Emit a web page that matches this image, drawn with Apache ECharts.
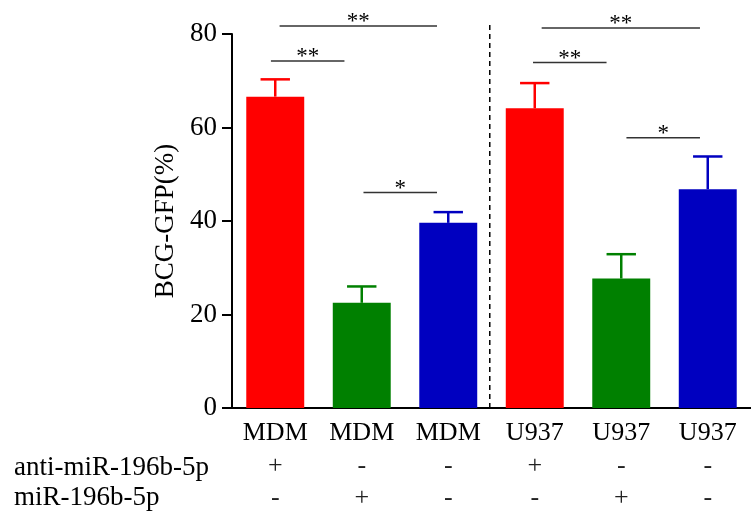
<!DOCTYPE html>
<html lang="en">

<head>
    <meta charset="UTF-8">
    <title>BCG-GFP</title>
</head>
<style>
    body {
        margin: 0;
        background-color: #ffffff;
    }

    #main {
        width: 751px;
        height: 514px;
    }
</style>
<script src="https://cdn.jsdelivr.net/npm/echarts@6.0.0/dist/echarts.min.js"></script>

<body>
    <div id="main"></div>

    <script>
        // data
        const categories = ['MDM', 'MDM', 'MDM', 'U937', 'U937', 'U937'];
        const antiMiR = ['+', '-', '-', '+', '-', '-'];
        const miR = ['-', '+', '-', '-', '+', '-'];
        const means = [66.6, 22.5, 39.6, 64.1, 27.7, 46.8];
        const errTops = [70.3, 26.0, 41.9, 69.5, 32.9, 53.8];
        const yTicks = [0, 20, 40, 60, 80];

        // significance brackets (x in category units)
        const bracketFrom = [0.05, -0.05, 1.02, 3.08, 2.98, 4.06];
        const bracketTo = [1.87, 0.80, 1.87, 4.91, 3.83, 4.91];
        const bracketY = [81.7, 74.2, 46.1, 81.3, 73.9, 57.8];
        const bracketMark = ['**', '**', '*', '**', '**', '*'];

        const barColors = ['#ff0000', '#008000', '#0000c0', '#ff0000', '#008000', '#0000c0'];
        const font = "'Liberation Serif', 'Times New Roman', serif";

        let myChart = echarts.init(document.getElementById('main'));

        option = {
            animation: false,
            textStyle: { fontFamily: font },
            grid: { left: 232, right: 0, top: 34, bottom: 106 },
            xAxis: [
                {
                    type: 'category',
                    data: categories,
                    axisLine: { lineStyle: { color: '#000', width: 2 } },
                    axisTick: { length: 8, lineStyle: { color: '#000', width: 2 } },
                    axisLabel: {
                        interval: 0,
                        margin: 9,
                        color: '#000',
                        fontFamily: font,
                        fontSize: 26,
                        lineHeight: 32,
                        formatter: (v, i) => v + '\n{pm|' + antiMiR[i] + '}\n{pm|' + miR[i] + '}',
                        rich: {
                            pm: { fontSize: 26, lineHeight: 32, color: '#222', fontFamily: font, padding: [3, 0, 0, 0] }
                        }
                    }
                },
                {
                    type: 'value',
                    min: -0.5,
                    max: 5.5,
                    show: false
                }
            ],
            yAxis: {
                type: 'value',
                min: 0,
                max: 80,
                interval: 20,
                name: 'BCG-GFP(%)',
                nameLocation: 'middle',
                nameGap: 50,
                nameTextStyle: { fontSize: 27, color: '#000', fontFamily: font },
                splitLine: { show: false },
                axisLine: { show: true, onZero: false, lineStyle: { color: '#000', width: 2 } },
                axisTick: { show: true, length: 10, lineStyle: { color: '#000', width: 2 } },
                axisLabel: {
                    margin: 15,
                    color: '#000',
                    fontSize: 27,
                    fontFamily: font,
                    formatter: v => yTicks.includes(v) ? String(v) : ''
                }
            },
            series: [
                {
                    type: 'bar',
                    barWidth: '67%',
                    data: means.map((m, i) => ({ value: m, itemStyle: { color: barColors[i] } }))
                },
                {
                    // error bars
                    type: 'custom',
                    clip: false,
                    z: 3,
                    data: means.map((m, i) => [i, errTops[i], m]),
                    renderItem: (params, api) => {
                        const i = api.value(0);
                        const top = api.coord([i, api.value(1)]);
                        const base = api.coord([i, api.value(2)]);
                        const half = api.size([1, 0])[0] * 0.17;
                        const style = { stroke: barColors[i], lineWidth: 2.5 };
                        return {
                            type: 'group',
                            children: [
                                { type: 'line', shape: { x1: base[0], y1: base[1], x2: top[0], y2: top[1] }, style },
                                { type: 'line', shape: { x1: top[0] - half, y1: top[1], x2: top[0] + half, y2: top[1] }, style }
                            ]
                        };
                    }
                },
                {
                    // significance brackets
                    type: 'custom',
                    xAxisIndex: 1,
                    clip: false,
                    data: bracketY.map((y, i) => [bracketFrom[i], bracketTo[i], y, i]),
                    renderItem: (params, api) => {
                        const a = api.coord([api.value(0), api.value(2)]);
                        const b = api.coord([api.value(1), api.value(2)]);
                        const k = api.value(3);
                        return {
                            type: 'group',
                            children: [
                                { type: 'line', shape: { x1: a[0], y1: a[1], x2: b[0], y2: b[1] }, style: { stroke: '#333', lineWidth: 1.5 } },
                                {
                                    type: 'text',
                                    style: {
                                        text: bracketMark[k],
                                        x: (a[0] + b[0]) / 2,
                                        y: a[1] - 4,
                                        align: 'center',
                                        verticalAlign: 'middle',
                                        font: '23px ' + font,
                                        fill: '#000'
                                    }
                                }
                            ]
                        };
                    }
                },
                {
                    // dashed divider between MDM and U937
                    type: 'custom',
                    xAxisIndex: 1,
                    clip: false,
                    data: [[2.48, 0, 82.6]],
                    renderItem: (params, api) => {
                        const a = api.coord([api.value(0), api.value(1)]);
                        const b = api.coord([api.value(0), api.value(2)]);
                        return {
                            type: 'line',
                            shape: { x1: a[0], y1: a[1], x2: b[0], y2: b[1] },
                            style: { stroke: '#000', lineWidth: 1.5, lineDash: [5, 4] }
                        };
                    }
                }
            ],
            graphic: [
                { type: 'text', left: 14, top: 454, style: { text: 'anti-miR-196b-5p', font: '27px ' + font, fill: '#000' } },
                { type: 'text', left: 14, top: 484, style: { text: 'miR-196b-5p', font: '27px ' + font, fill: '#000' } }
            ]
        };

        myChart.setOption(option);
    </script>

</body>

</html>
